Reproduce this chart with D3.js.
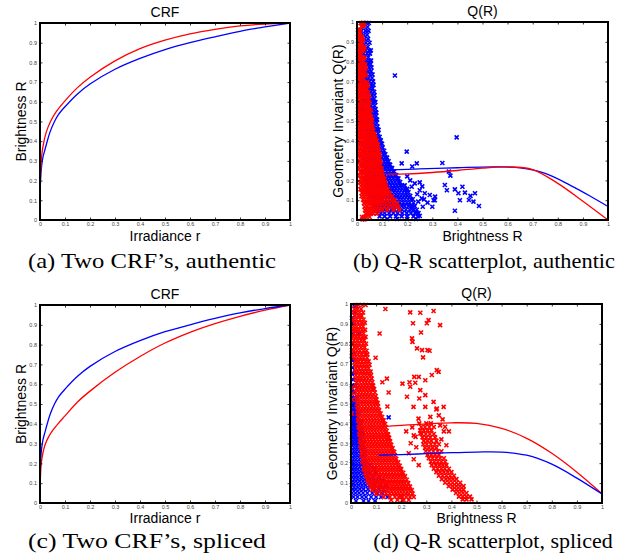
<!DOCTYPE html>
<html>
<head>
<meta charset="utf-8">
<script src="https://cdn.jsdelivr.net/npm/d3@7"></script>
<style>
html,body{margin:0;padding:0;background:#fff;}
svg{display:block;}
</style>
</head>
<body>
<svg id="chart" width="628" height="559"></svg>
<script>
// ---------- tick values / labels ----------
const tickValues = [0,0.1,0.2,0.3,0.4,0.5,0.6,0.7,0.8,0.9,1];
const tickLabels = ["0","0.1","0.2","0.3","0.4","0.5","0.6","0.7","0.8","0.9","1"];

// ---------- text ----------
const titles = ["CRF","Q(R)","CRF","Q(R)"];
const xLabels = ["Irradiance r","Brightness R","Irradiance r","Brightness R"];
const yLabels = ["Brightness R","Geometry Invariant Q(R)","Brightness R","Geometry Invariant Q(R)"];
const captions = ["(a) Two CRF\u2019s, authentic","(b) Q-R scatterplot, authentic","(c) Two CRF\u2019s, spliced","(d) Q-R scatterplot, spliced"];

// ---------- CRF curves (irradiance r -> brightness R) ----------
const crfA_red_r  = [0,0.001,0.004,0.008,0.016,0.025,0.042,0.065,0.1,0.15,0.2,0.3,0.4,0.5,0.6,0.7,0.8,0.9,1];
const crfA_red_R  = [0,0.18,0.28,0.34,0.4,0.446,0.5,0.55,0.605,0.672,0.725,0.808,0.87,0.913,0.945,0.968,0.985,0.995,1];
const crfA_blue_r = [0,0.002,0.006,0.012,0.02,0.029,0.04,0.058,0.075,0.1,0.15,0.2,0.3,0.4,0.5,0.6,0.7,0.8,0.9,1];
const crfA_blue_R = [0,0.2,0.27,0.32,0.358,0.4,0.446,0.5,0.537,0.575,0.64,0.69,0.765,0.82,0.865,0.9,0.93,0.958,0.98,1];
const crfC_blue_r = [0,0.002,0.006,0.012,0.02,0.029,0.04,0.058,0.075,0.1,0.15,0.2,0.3,0.4,0.5,0.6,0.7,0.8,0.9,1];
const crfC_blue_R = [0,0.2,0.27,0.32,0.358,0.4,0.446,0.5,0.537,0.575,0.64,0.69,0.765,0.82,0.865,0.9,0.932,0.96,0.982,1];
const crfC_red_r  = [0,0.001,0.005,0.012,0.022,0.035,0.05,0.075,0.1,0.15,0.2,0.3,0.4,0.5,0.6,0.7,0.8,0.9,1];
const crfC_red_R  = [0,0.1,0.2,0.255,0.3,0.335,0.365,0.405,0.44,0.51,0.565,0.66,0.74,0.808,0.862,0.906,0.943,0.974,1];

// ---------- Q(R) fitted curves ----------
const qB_blue_x = [0.128,0.25,0.4,0.55,0.65,0.75,0.85,0.93,1];
const qB_blue_y = [0.253,0.258,0.264,0.268,0.263,0.235,0.175,0.12,0.068];
const qB_red_x  = [0.12,0.2,0.3,0.4,0.5,0.6,0.7,0.8,0.9,1];
const qB_red_y  = [0.232,0.233,0.24,0.25,0.262,0.268,0.255,0.185,0.095,0.0];
const qD_red_x  = [0.114,0.2,0.3,0.4,0.5,0.6,0.7,0.8,0.9,1];
const qD_red_y  = [0.383,0.39,0.398,0.403,0.4,0.375,0.325,0.25,0.155,0.047];
const qD_blue_x = [0.11,0.2,0.3,0.4,0.5,0.6,0.7,0.8,0.9,1];
const qD_blue_y = [0.24,0.243,0.248,0.253,0.256,0.256,0.24,0.195,0.125,0.045];

// ---------- scatter data: rows are [Q, R1, R2, ...] ----------
const scB_blue_rows = [
[0.995,0.024,0.038,0.047],[0.975,0.028,0.042],[0.955,0.018,0.034,0.046],[0.935,0.026,0.04],
[0.915,0.015,0.03,0.044],[0.895,0.022,0.036,0.05],[0.875,0.014,0.028,0.043],[0.857,0.02,0.034,0.048,0.055],
[0.84,0.012,0.026,0.04,0.052],[0.822,0.018,0.032,0.045],[0.805,0.01,0.024,0.038,0.05,0.056],[0.787,0.016,0.03,0.043,0.054],
[0.77,0.012,0.025,0.036,0.048,0.058],[0.752,0.02,0.032,0.044,0.056],[0.735,0.01,0.027,0.04,0.052,0.062],[0.717,0.018,0.034,0.046,0.06],
[0.7,0.012,0.025,0.038,0.05,0.064],[0.682,0.02,0.032,0.044,0.057,0.066],[0.665,0.01,0.026,0.038,0.05,0.062],[0.647,0.018,0.03,0.043,0.055,0.068],
[0.63,0.012,0.024,0.036,0.048,0.06,0.07],[0.612,0.02,0.033,0.045,0.058,0.068],[0.595,0.01,0.027,0.04,0.052,0.064,0.073],[0.577,0.018,0.031,0.044,0.057,0.07],
[0.56,0.012,0.025,0.038,0.05,0.062,0.074],[0.542,0.02,0.034,0.046,0.058,0.07,0.077],[0.525,0.015,0.028,0.04,0.052,0.065,0.076],[0.507,0.022,0.035,0.047,0.06,0.072,0.08],
[0.49,0.014,0.027,0.04,0.053,0.066,0.078],[0.472,0.02,0.033,0.046,0.058,0.07,0.082],[0.455,0.015,0.028,0.041,0.054,0.066,0.078,0.086],[0.437,0.022,0.035,0.048,0.06,0.072,0.084],
[0.42,0.018,0.03,0.043,0.056,0.068,0.08,0.09],[0.402,0.025,0.038,0.05,0.062,0.075,0.087,0.095],[0.385,0.02,0.033,0.046,0.058,0.07,0.082,0.094,0.1],[0.367,0.028,0.04,0.052,0.065,0.078,0.09,0.102],
[0.35,0.022,0.035,0.048,0.06,0.072,0.085,0.097,0.108],[0.332,0.03,0.043,0.055,0.068,0.08,0.092,0.104,0.113],[0.315,0.025,0.038,0.05,0.062,0.075,0.088,0.1,0.112,0.12],
[0.297,0.032,0.045,0.057,0.07,0.082,0.095,0.107,0.118,0.126],[0.28,0.028,0.04,0.052,0.065,0.078,0.09,0.102,0.114,0.125,0.132],
[0.262,0.035,0.048,0.06,0.072,0.085,0.097,0.11,0.122,0.134,0.14],[0.245,0.03,0.043,0.056,0.068,0.08,0.093,0.105,0.118,0.13,0.142,0.148],
[0.227,0.038,0.05,0.062,0.075,0.088,0.1,0.112,0.125,0.137,0.15,0.156],[0.21,0.034,0.046,0.058,0.07,0.083,0.096,0.108,0.12,0.132,0.145,0.158,0.165],
[0.192,0.04,0.052,0.065,0.078,0.09,0.103,0.115,0.128,0.14,0.152,0.164,0.172],[0.175,0.036,0.048,0.06,0.072,0.085,0.098,0.11,0.122,0.135,0.148,0.16,0.172,0.18,0.19],
[0.157,0.042,0.055,0.068,0.08,0.092,0.105,0.118,0.13,0.142,0.155,0.168,0.18,0.192,0.2],[0.14,0.045,0.058,0.07,0.082,0.095,0.108,0.12,0.133,0.146,0.158,0.17,0.183,0.195,0.205],
[0.122,0.05,0.062,0.075,0.088,0.1,0.112,0.125,0.138,0.15,0.162,0.175,0.188,0.2,0.212],[0.105,0.054,0.066,0.078,0.09,0.103,0.116,0.128,0.14,0.153,0.166,0.178,0.19,0.203,0.215,0.222],
[0.087,0.06,0.072,0.085,0.097,0.11,0.122,0.135,0.148,0.16,0.172,0.185,0.198,0.21,0.225],[0.07,0.065,0.078,0.09,0.103,0.116,0.128,0.14,0.152,0.165,0.178,0.19,0.205,0.218,0.23],
[0.052,0.072,0.085,0.098,0.11,0.123,0.136,0.15,0.165,0.18,0.195,0.21,0.225,0.238],[0.035,0.08,0.095,0.11,0.128,0.145,0.162,0.18,0.198,0.215,0.232,0.245],
[0.018,0.09,0.11,0.132,0.155,0.178,0.2,0.225,0.242],[0.005,0.12,0.16,0.2,0.235]
];
const scB_blue_pts = [
[0.151,0.73],[0.397,0.417],[0.198,0.345],[0.178,0.286],[0.238,0.286],[0.22,0.27],[0.34,0.288],[0.366,0.244],[0.372,0.224],
[0.35,0.177],[0.39,0.155],[0.42,0.168],[0.404,0.135],[0.43,0.138],[0.452,0.122],[0.47,0.135],[0.446,0.101],[0.464,0.093],
[0.486,0.071],[0.39,0.047],[0.29,0.126],[0.31,0.1],[0.3,0.067],[0.25,0.15],[0.27,0.135],[0.218,0.168],[0.23,0.185],
[0.244,0.093],[0.258,0.109],[0.281,0.088],[0.267,0.104],[0.262,0.067],[0.305,0.1],[0.311,0.118],[0.358,0.15],[0.41,0.1],
[0.2,0.22],[0.212,0.2],[0.25,0.19],[0.26,0.17],[0.24,0.13],[0.22,0.06],[0.235,0.04],[0.25,0.02]
];
const scB_red_rows = [
[0.995,0.014,0.022,0.03],[0.978,0.018,0.026],[0.96,0.004,0.012],[0.942,0.006,0.014],[0.925,0.004,0.012,0.02],
[0.907,0.008,0.016,0.024],[0.89,0.004,0.012,0.02],[0.872,0.008,0.016,0.025,0.03],[0.855,0.004,0.012,0.02,0.028],
[0.837,0.008,0.016],[0.82,0.004,0.012,0.022,0.03],[0.802,0.008,0.018,0.026],[0.785,0.004,0.012,0.02,0.032],
[0.767,0.008,0.016,0.026,0.035],[0.75,0.004,0.012,0.022,0.03],[0.732,0.008,0.018,0.028,0.038],[0.715,0.004,0.014,0.024],
[0.697,0.008,0.018,0.03,0.04],[0.68,0.004,0.012,0.022,0.034,0.043],[0.662,0.008,0.018,0.028,0.038],[0.645,0.004,0.014,0.024,0.034,0.045],
[0.627,0.01,0.02,0.03,0.04,0.048],[0.61,0.004,0.014,0.024,0.036,0.046],[0.592,0.01,0.02,0.03,0.042,0.05],[0.575,0.004,0.014,0.026,0.036,0.046],
[0.557,0.008,0.018,0.03,0.04,0.05,0.055],[0.54,0.004,0.014,0.024,0.034,0.044,0.052],[0.522,0.008,0.018,0.028,0.038,0.048,0.056],
[0.505,0.004,0.014,0.024,0.034,0.044,0.054,0.06],[0.487,0.008,0.018,0.028,0.038,0.048,0.058],[0.47,0.004,0.014,0.024,0.034,0.044,0.054,0.062],
[0.452,0.008,0.018,0.028,0.038,0.048,0.058,0.065],[0.435,0.004,0.014,0.024,0.034,0.044,0.054,0.064,0.07],
[0.417,0.008,0.018,0.028,0.038,0.048,0.058,0.068,0.074],[0.4,0.004,0.014,0.024,0.034,0.044,0.054,0.064,0.073,0.078],
[0.382,0.008,0.018,0.028,0.038,0.048,0.058,0.068,0.078,0.083],[0.365,0.005,0.015,0.025,0.035,0.045,0.055,0.065,0.075,0.085],
[0.347,0.01,0.02,0.03,0.04,0.05,0.06,0.07,0.08,0.088],[0.33,0.006,0.016,0.026,0.036,0.046,0.056,0.066,0.076,0.086,0.09],
[0.312,0.011,0.021,0.031,0.041,0.051,0.061,0.071,0.081,0.09],[0.295,0.008,0.018,0.028,0.038,0.048,0.058,0.068,0.078,0.088,0.094],
[0.277,0.012,0.022,0.032,0.042,0.052,0.062,0.072,0.082,0.092],[0.26,0.009,0.019,0.029,0.039,0.049,0.059,0.069,0.079,0.089,0.098],
[0.242,0.014,0.024,0.034,0.044,0.054,0.064,0.074,0.084,0.094,0.1],[0.225,0.01,0.02,0.03,0.04,0.05,0.06,0.07,0.08,0.09,0.1,0.105],
[0.207,0.015,0.025,0.035,0.045,0.055,0.065,0.075,0.085,0.095,0.105,0.11],[0.19,0.012,0.022,0.032,0.042,0.052,0.062,0.072,0.082,0.092,0.102,0.112],
[0.172,0.016,0.026,0.036,0.046,0.056,0.066,0.076,0.086,0.096,0.106,0.116],[0.155,0.014,0.024,0.034,0.044,0.054,0.064,0.074,0.084,0.094,0.104,0.114,0.122],
[0.137,0.02,0.03,0.04,0.05,0.06,0.07,0.08,0.09,0.1,0.11,0.12,0.13],[0.12,0.018,0.028,0.038,0.048,0.058,0.068,0.078,0.088,0.098,0.108,0.118,0.13,0.14],
[0.102,0.024,0.034,0.044,0.054,0.064,0.074,0.084,0.094,0.104,0.115,0.128,0.142,0.15],[0.085,0.028,0.038,0.048,0.058,0.068,0.078,0.088,0.1,0.115,0.13,0.145,0.16],
[0.067,0.03,0.04,0.05,0.06,0.07,0.082,0.095,0.11,0.125,0.14,0.155,0.165],[0.05,0.032,0.042,0.052,0.062,0.072,0.085,0.1,0.12,0.145,0.168],
[0.032,0.035,0.045,0.055,0.065,0.08],[0.015,0.02,0.028,0.038,0.05],[0.003,0.022,0.03]
];
const scD_blue_rows = [
[0.99,0.012,0.022],[0.96,0.015],[0.93,0.004],[0.9,0.01],[0.85,0.006,0.03],[0.8,0.004],[0.75,0.008],[0.72,0.004,0.012],
[0.68,0.006],[0.65,0.004,0.014],[0.62,0.008],[0.59,0.004,0.016,0.085],[0.56,0.006,0.012],[0.53,0.004,0.014,0.024],
[0.51,0.008,0.018],[0.49,0.004,0.012,0.022],[0.47,0.008,0.016,0.026],[0.45,0.004,0.012,0.02,0.03],[0.43,0.008,0.016,0.026,0.15],
[0.41,0.004,0.012,0.02,0.03,0.04],[0.39,0.008,0.016,0.026,0.036],[0.37,0.004,0.012,0.02,0.03,0.042],[0.35,0.008,0.016,0.026,0.036,0.046],
[0.33,0.004,0.012,0.022,0.032,0.042],[0.31,0.008,0.018,0.028,0.038,0.05],[0.29,0.004,0.014,0.024,0.034,0.046],[0.27,0.008,0.018,0.028,0.04,0.052],
[0.25,0.004,0.014,0.024,0.036,0.048,0.058],[0.23,0.008,0.018,0.03,0.042,0.054],[0.21,0.004,0.014,0.026,0.038,0.05,0.062],
[0.19,0.008,0.018,0.03,0.042,0.056,0.075],[0.17,0.004,0.014,0.026,0.04,0.052,0.066,0.09],[0.15,0.008,0.02,0.032,0.046,0.06,0.078,0.1],
[0.13,0.004,0.016,0.028,0.042,0.056,0.07,0.088,0.11],[0.11,0.008,0.02,0.034,0.048,0.062,0.08,0.1,0.125],
[0.09,0.004,0.016,0.03,0.044,0.058,0.075,0.095,0.115,0.14],[0.07,0.008,0.02,0.035,0.05,0.068,0.09,0.11,0.13],
[0.05,0.004,0.018,0.032,0.048,0.065,0.085,0.105,0.125],[0.03,0.01,0.026,0.044,0.06,0.08,0.1,0.12,0.145],[0.01,0.02,0.05,0.07,0.095]
];
const scD_red_rows = [
[0.995,0.018,0.03,0.045,0.058],[0.975,0.014,0.026,0.04,0.137],[0.957,0.01,0.022,0.034,0.048],[0.94,0.016,0.03,0.042],
[0.922,0.01,0.022,0.036,0.05],[0.905,0.014,0.028,0.042,0.055],[0.887,0.01,0.022,0.036,0.048],[0.87,0.008,0.018,0.03,0.044,0.056],
[0.852,0.012,0.024,0.038,0.05,0.114],[0.835,0.008,0.02,0.032,0.046,0.058],[0.817,0.012,0.026,0.04,0.052],[0.8,0.01,0.022,0.034,0.048,0.06],
[0.782,0.014,0.026,0.04,0.054],[0.765,0.012,0.024,0.036,0.05,0.062],[0.747,0.016,0.028,0.042,0.056,0.065],[0.73,0.014,0.026,0.038,0.05,0.064,0.098],
[0.712,0.018,0.03,0.044,0.058,0.07],[0.695,0.015,0.026,0.038,0.05,0.062,0.074],[0.677,0.02,0.032,0.045,0.058,0.07],[0.66,0.016,0.028,0.04,0.052,0.065,0.078],
[0.642,0.02,0.033,0.046,0.058,0.07,0.08],[0.625,0.018,0.03,0.042,0.055,0.068,0.082,0.143],[0.607,0.022,0.035,0.048,0.06,0.072,0.085,0.125],
[0.59,0.02,0.032,0.044,0.056,0.068,0.08,0.088],[0.572,0.024,0.036,0.048,0.06,0.072,0.085,0.092],[0.555,0.02,0.032,0.044,0.056,0.068,0.08,0.095,0.15],
[0.537,0.024,0.036,0.048,0.06,0.072,0.085,0.098],[0.52,0.022,0.034,0.046,0.058,0.07,0.082,0.094,0.102],[0.502,0.026,0.038,0.05,0.062,0.074,0.086,0.098,0.106],
[0.485,0.024,0.036,0.048,0.06,0.072,0.084,0.096,0.108,0.145],[0.467,0.028,0.04,0.052,0.064,0.076,0.088,0.1,0.112],
[0.45,0.026,0.038,0.05,0.062,0.074,0.086,0.098,0.11,0.118],[0.432,0.03,0.042,0.054,0.066,0.078,0.09,0.102,0.114,0.124],
[0.415,0.028,0.04,0.052,0.064,0.076,0.088,0.1,0.112,0.124,0.13],[0.397,0.032,0.044,0.056,0.068,0.08,0.092,0.104,0.116,0.128,0.136],
[0.38,0.03,0.042,0.054,0.066,0.078,0.09,0.102,0.114,0.126,0.138],[0.362,0.035,0.047,0.059,0.071,0.083,0.095,0.107,0.119,0.131,0.142],
[0.345,0.033,0.045,0.057,0.069,0.081,0.093,0.105,0.117,0.129,0.141,0.148],[0.327,0.038,0.05,0.062,0.074,0.086,0.098,0.11,0.122,0.134,0.146,0.152],
[0.31,0.036,0.048,0.06,0.072,0.084,0.096,0.108,0.12,0.132,0.144,0.156],[0.292,0.04,0.052,0.064,0.076,0.088,0.1,0.112,0.124,0.136,0.148,0.16],
[0.275,0.038,0.05,0.062,0.074,0.086,0.098,0.11,0.122,0.134,0.146,0.158,0.166],[0.257,0.044,0.056,0.068,0.08,0.092,0.104,0.116,0.128,0.14,0.152,0.164,0.172],
[0.24,0.042,0.054,0.066,0.078,0.09,0.102,0.114,0.126,0.138,0.15,0.162,0.175],[0.222,0.048,0.06,0.072,0.084,0.096,0.108,0.12,0.132,0.144,0.156,0.168,0.18],
[0.205,0.046,0.058,0.07,0.082,0.094,0.106,0.118,0.13,0.142,0.154,0.166,0.178,0.188],[0.187,0.052,0.064,0.076,0.088,0.1,0.112,0.124,0.136,0.148,0.16,0.172,0.184,0.194],
[0.17,0.05,0.062,0.074,0.086,0.098,0.11,0.122,0.134,0.146,0.158,0.17,0.182,0.194,0.2],[0.152,0.056,0.068,0.08,0.092,0.104,0.116,0.128,0.14,0.152,0.164,0.176,0.188,0.2,0.208],
[0.135,0.06,0.072,0.084,0.096,0.108,0.12,0.132,0.144,0.156,0.168,0.18,0.192,0.204,0.215],[0.117,0.065,0.077,0.089,0.101,0.113,0.125,0.137,0.149,0.161,0.173,0.185,0.197,0.209,0.222],
[0.1,0.07,0.082,0.094,0.106,0.118,0.13,0.142,0.154,0.166,0.178,0.19,0.202,0.214,0.228],[0.082,0.078,0.09,0.102,0.114,0.126,0.138,0.15,0.162,0.174,0.186,0.198,0.21,0.222,0.235],
[0.065,0.085,0.1,0.115,0.13,0.145,0.158,0.17,0.182,0.194,0.206,0.218,0.23,0.242],[0.047,0.1,0.12,0.14,0.155,0.168,0.18,0.192,0.205,0.218,0.23,0.245],
[0.03,0.13,0.155,0.175,0.19,0.205,0.22,0.235,0.25],[0.015,0.16,0.185,0.205,0.23],
// second (spliced-region) streak
[0.4,0.272,0.3,0.318],[0.382,0.28,0.295,0.312,0.33],[0.365,0.276,0.29,0.305,0.32],[0.347,0.282,0.298,0.314,0.33],
[0.33,0.285,0.3,0.316,0.335],[0.312,0.29,0.305,0.32,0.34],[0.295,0.288,0.302,0.318,0.334,0.35],[0.277,0.295,0.31,0.325,0.34],
[0.26,0.298,0.312,0.328,0.345,0.36],[0.242,0.305,0.32,0.335,0.35],[0.225,0.31,0.325,0.34,0.355,0.37],[0.207,0.318,0.332,0.346,0.36,0.375],
[0.19,0.322,0.338,0.352,0.366,0.38],[0.172,0.33,0.345,0.36,0.374,0.39],[0.155,0.34,0.355,0.37,0.385,0.4],[0.137,0.35,0.365,0.38,0.395,0.41],
[0.12,0.362,0.378,0.392,0.406,0.42],[0.102,0.375,0.39,0.405,0.42,0.435],[0.085,0.39,0.405,0.42,0.434,0.448],[0.067,0.405,0.42,0.434,0.448],
[0.05,0.418,0.432,0.446,0.46],[0.032,0.43,0.445,0.46,0.474],[0.018,0.445,0.46,0.48]
];
const scD_red_pts = [
[0.236,0.958],[0.276,0.956],[0.329,0.965],[0.355,0.894],[0.247,0.903],[0.302,0.903],[0.309,0.919],[0.243,0.827],[0.245,0.81],
[0.279,0.857],[0.283,0.768],[0.305,0.768],[0.313,0.765],[0.287,0.732],[0.263,0.777],[0.342,0.668],[0.349,0.659],[0.322,0.643],
[0.296,0.617],[0.27,0.634],[0.252,0.634],[0.233,0.607],[0.223,0.534],[0.236,0.584],[0.256,0.604],[0.276,0.567],[0.296,0.542],
[0.249,0.483],[0.272,0.525],[0.269,0.424],[0.296,0.483],[0.329,0.508],[0.342,0.475],[0.369,0.483],[0.316,0.433],[0.375,0.383],
[0.276,0.349],[0.257,0.332],[0.205,0.6],[0.244,0.38],[0.238,0.3],[0.25,0.34],[0.22,0.36],[0.23,0.25],[0.26,0.28],[0.25,0.22],
[0.27,0.19],[0.36,0.32],[0.37,0.36],[0.38,0.29],[0.355,0.39],[0.365,0.42],[0.39,0.36],[0.35,0.44],[0.34,0.47],
[0.003,0.8],[0.004,0.77],[0.003,0.74],[0.004,0.58],[0.003,0.55],[0.004,0.52],[0.003,0.45],[0.2,0.03],[0.21,0.015]
];

// ---------- layout ----------
const panels = [
  {l:40,  r:290, t:23,  b:220, capX:152, capY:268, capW:248, ylX:21,  xlY:241},
  {l:357, r:608, t:22,  b:220, capX:484, capY:268, capW:262, ylX:338, xlY:241},
  {l:40,  r:290, t:305, b:503, capX:147, capY:548, capW:238, ylX:21,  xlY:523},
  {l:351, r:602, t:304, b:503, capX:493, capY:548, capW:0,   ylX:332, xlY:523}
];
const RED = "#ff0000", BLUE = "#0000ff";
const svg = d3.select("#chart");

function rowsToPts(rows){ const o=[]; rows.forEach(r=>{ for(let i=1;i<r.length;i++) o.push([r[i], r[0]]); }); return o; }
function zipXY(xs, ys){ return xs.map((x,i)=>[x, ys[i]]); }

function drawPanel(i, lines, scatters){
  const p = panels[i];
  const x = d3.scaleLinear().domain([0,1]).range([p.l, p.r]);
  const y = d3.scaleLinear().domain([0,1]).range([p.b, p.t]);
  const g = svg.append("g");

  // scatter
  const s = 2.0;
  const markerPath = `M${-s},${-s}L${s},${s}M${-s},${s}L${s},${-s}`;
  scatters.forEach(sc => {
    g.append("g").selectAll("path").data(sc.pts).join("path")
      .attr("d", markerPath)
      .attr("transform", d => `translate(${x(d[0])},${y(d[1])})`)
      .attr("stroke", sc.color).attr("stroke-width", 1.6).attr("fill", "none");
  });

  // lines
  const line = d3.line().x(d=>x(d[0])).y(d=>y(d[1])).curve(d3.curveCatmullRom.alpha(0.5));
  lines.forEach(ln => {
    g.append("path").datum(ln.pts).attr("d", line)
      .attr("fill","none").attr("stroke", ln.color).attr("stroke-width", 1.3);
  });

  // axes (ticks inward, MATLAB-style box)
  const fmt = d => tickLabels[tickValues.indexOf(d)];
  const bottom = g.append("g").attr("transform",`translate(0,${p.b})`)
    .call(d3.axisBottom(x).tickValues(tickValues).tickFormat(fmt).tickSizeInner(-2.5).tickSizeOuter(0).tickPadding(3));
  const left = g.append("g").attr("transform",`translate(${p.l},0)`)
    .call(d3.axisLeft(y).tickValues(tickValues).tickFormat(fmt).tickSizeInner(-2.5).tickSizeOuter(0).tickPadding(3));
  const top = g.append("g").attr("transform",`translate(0,${p.t})`)
    .call(d3.axisTop(x).tickValues(tickValues).tickFormat("").tickSizeInner(-2.5).tickSizeOuter(0));
  const right = g.append("g").attr("transform",`translate(${p.r},0)`)
    .call(d3.axisRight(y).tickValues(tickValues).tickFormat("").tickSizeInner(-2.5).tickSizeOuter(0));
  [bottom,left,top,right].forEach(a => {
    a.select(".domain").remove();
    a.selectAll(".tick line").attr("stroke","#000").attr("stroke-width",0.8);
    a.selectAll(".tick text").attr("font-family","Liberation Sans, Arial, sans-serif").attr("font-size",5.5).attr("fill","#444");
  });
  bottom.selectAll(".tick text").attr("dy","0.6em");
  g.append("rect").attr("x",p.l).attr("y",p.t).attr("width",p.r-p.l).attr("height",p.b-p.t)
    .attr("fill","none").attr("stroke","#000").attr("stroke-width",2);

  // texts
  const sans = "Liberation Sans, Arial, Helvetica, sans-serif";
  g.append("text").attr("x",(p.l+p.r)/2).attr("y",p.t-6).attr("text-anchor","middle")
    .attr("font-family",sans).attr("font-size",14).text(titles[i]);
  g.append("text").attr("x",(p.l+p.r)/2).attr("y",p.xlY).attr("text-anchor","middle")
    .attr("font-family",sans).attr("font-size",14).text(xLabels[i]);
  g.append("text").attr("transform",`translate(${p.ylX},${(p.t+p.b)/2}) rotate(-90)`).attr("text-anchor","middle")
    .attr("dy","0.35em").attr("font-family",sans).attr("font-size",14).text(yLabels[i]);
  const cap = g.append("text").attr("x",p.capX).attr("y",p.capY).attr("text-anchor","middle")
    .attr("font-family","Liberation Serif, Times New Roman, serif").attr("font-size",22).text(captions[i]);
  if (p.capW) cap.attr("textLength", p.capW).attr("lengthAdjust","spacingAndGlyphs");
}

drawPanel(0, [
  {color:BLUE, pts: zipXY(crfA_blue_r, crfA_blue_R)},
  {color:RED,  pts: zipXY(crfA_red_r, crfA_red_R)}
], []);
drawPanel(1, [
  {color:BLUE, pts: zipXY(qB_blue_x, qB_blue_y)},
  {color:RED,  pts: zipXY(qB_red_x, qB_red_y)}
], [
  {color:BLUE, pts: rowsToPts(scB_blue_rows).concat(scB_blue_pts)},
  {color:RED,  pts: rowsToPts(scB_red_rows)}
]);
drawPanel(2, [
  {color:RED,  pts: zipXY(crfC_red_r, crfC_red_R)},
  {color:BLUE, pts: zipXY(crfC_blue_r, crfC_blue_R)}
], []);
drawPanel(3, [
  {color:RED,  pts: zipXY(qD_red_x, qD_red_y)},
  {color:BLUE, pts: zipXY(qD_blue_x, qD_blue_y)}
], [
  {color:BLUE, pts: rowsToPts(scD_blue_rows)},
  {color:RED,  pts: rowsToPts(scD_red_rows).concat(scD_red_pts)}
]);
</script>
</body>
</html>
